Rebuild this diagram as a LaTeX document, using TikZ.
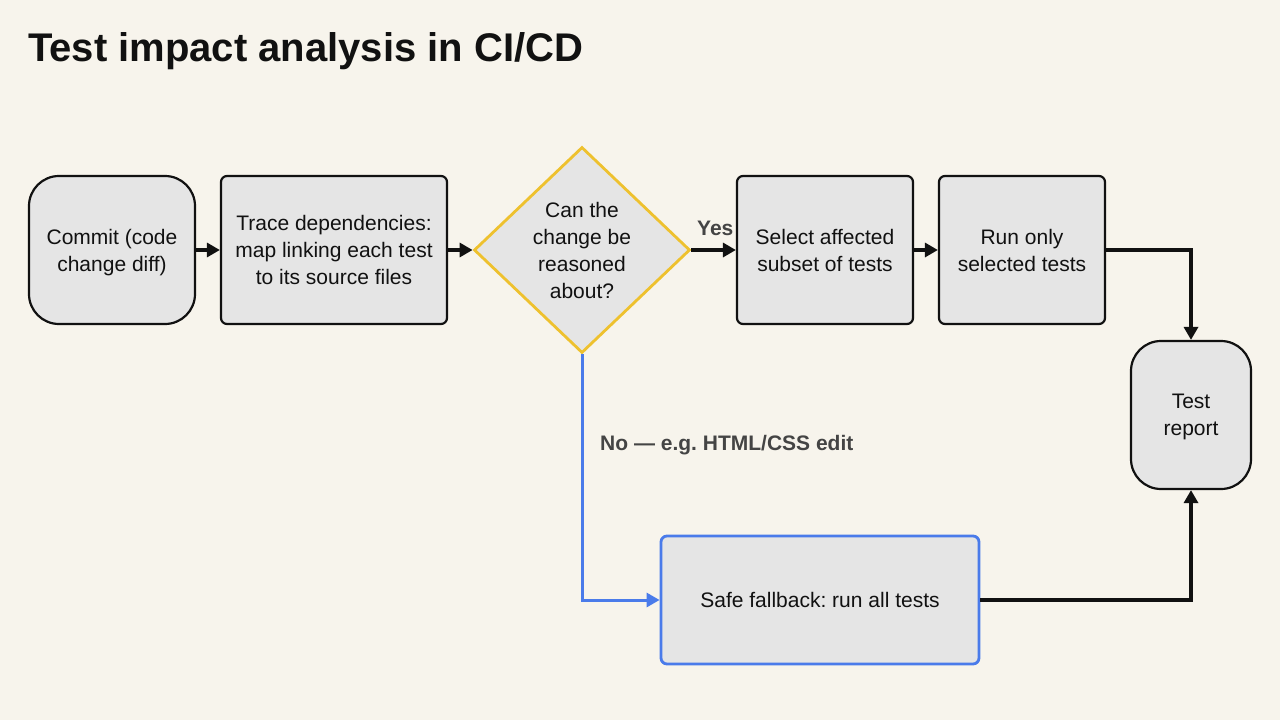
\documentclass[tikz,border=0pt]{standalone}
\usepackage{fontspec}
\setmainfont{Liberation Sans}
\usetikzlibrary{arrows.meta,shapes.geometric}
\frenchspacing
\definecolor{bgc}{HTML}{F7F4EC}
\definecolor{boxfill}{HTML}{E5E5E5}
\definecolor{ink}{HTML}{111111}
\definecolor{labgray}{HTML}{444444}
\definecolor{decyellow}{HTML}{EEC12E}
\definecolor{fallblue}{HTML}{4A7BEA}
\tikzset{
  box/.style={draw=ink, fill=boxfill, line width=2.2pt, rounded corners=6pt, align=center,
    font=\frenchspacing\fontsize{21}{27}\selectfont, text=ink, inner sep=0pt, text depth=0pt},
  terminal/.style={box, rounded corners=30pt},
  decision/.style={diamond, draw=decyellow, fill=boxfill, line width=2.8pt, inner sep=0pt,
    minimum width=216pt, minimum height=206pt},
  txt/.style={align=center, font=\fontsize{21}{27}\selectfont, text=ink, inner sep=0pt, text depth=0pt},
  edgelabel/.style={font=\frenchspacing\bfseries\fontsize{21}{25}\selectfont, text=labgray, inner sep=0pt},
  flow/.style={draw=ink, line width=3.2pt, -{Triangle[length=13pt,width=14pt]}},
  noflow/.style={draw=fallblue, line width=3pt, -{Triangle[length=13pt,width=14pt]}}
}
\begin{document}
\begin{tikzpicture}[x=1pt,y=-1pt]
\fill[bgc] (0,0) rectangle (1280,720);
\useasboundingbox (0,0) rectangle (1280,720);

\node[anchor=base west, inner sep=0pt, font=\bfseries\fontsize{40}{48}\selectfont, text=ink] (title) at (28,61) {Test impact analysis in CI/CD};

\node[terminal, minimum width=166pt, minimum height=148pt] (commit) at (112,250) {Commit (code\\change diff)};
\node[box, minimum width=226pt, minimum height=148pt] (trace) at (334,250) {Trace dependencies:\\map linking each test\\to its source files};
\node[decision] (dec) at (582,250) {};
\node[txt] (dectext) at (dec.center) {Can the\\change be\\reasoned\\about?};
\node[box, minimum width=176pt, minimum height=148pt] (select) at (825,250) {Select affected\\subset of tests};
\node[box, minimum width=166pt, minimum height=148pt] (run) at (1022,250) {Run only\\selected tests};
\node[terminal, minimum width=120pt, minimum height=148pt] (report) at (1191,415) {Test\\report};
\node[box, draw=fallblue, line width=2.8pt, minimum width=318pt, minimum height=128pt] (safe) at (820,600) {Safe fallback: run all tests};

\draw[flow] (commit.east) -- (trace.west);
\draw[flow] (trace.east) -- (dec.west);
\draw[flow] (dec.east) -- (select.west);
\draw[flow] (select.east) -- (run.west);
\draw[flow] (run.east) -| (report.north);
\draw[flow] (safe.east) -| (report.south);
\draw[noflow] (dec.south) |- (safe.west);

\node[edgelabel, anchor=base west] (yes) at (697,235) {Yes};
\node[edgelabel, anchor=base west] (no) at (600,450) {No — e.g. HTML/CSS edit};
\end{tikzpicture}
\end{document}
